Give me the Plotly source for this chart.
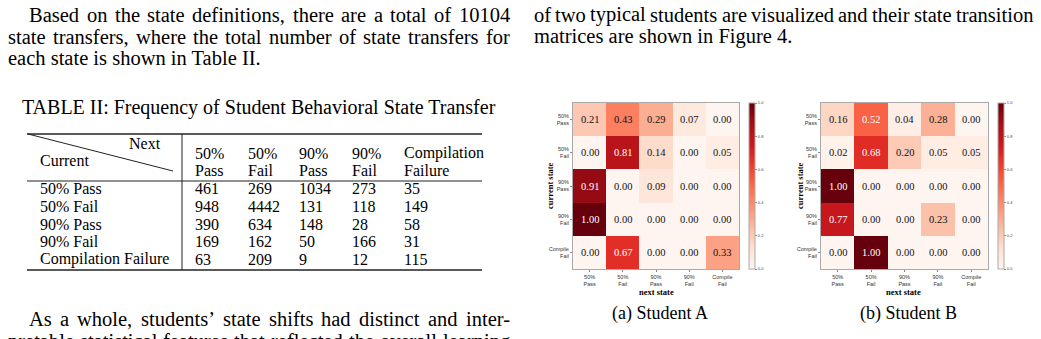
import plotly.graph_objects as go

W, H = 1041, 339

# ---------------- data ----------------
states_tick = ["50%<br>Pass", "50%<br>Fail", "90%<br>Pass", "90%<br>Fail", "Compile<br>Fail"]
student_a = [
    [0.21, 0.43, 0.29, 0.07, 0.00],
    [0.00, 0.81, 0.14, 0.00, 0.05],
    [0.91, 0.00, 0.09, 0.00, 0.00],
    [1.00, 0.00, 0.00, 0.00, 0.00],
    [0.00, 0.67, 0.00, 0.00, 0.33],
]
student_b = [
    [0.16, 0.52, 0.04, 0.28, 0.00],
    [0.02, 0.68, 0.20, 0.05, 0.05],
    [1.00, 0.00, 0.00, 0.00, 0.00],
    [0.77, 0.00, 0.00, 0.23, 0.00],
    [0.00, 1.00, 0.00, 0.00, 0.00],
]
cbar_ticks = [0.0, 0.2, 0.4, 0.6, 0.8, 1.0]
captions = ["(a) Student A", "(b) Student B"]

table_title = "TABLE II: Frequency of Student Behavioral State Transfer"
table_cols_top = ["50%", "50%", "90%", "90%", "Compilation"]
table_cols_bot = ["Pass", "Fail", "Pass", "Fail", "Failure"]
table_rows = ["50% Pass", "50% Fail", "90% Pass", "90% Fail", "Compilation Failure"]
table_vals = [
    [461, 269, 1034, 273, 35],
    [948, 4442, 131, 118, 149],
    [390, 634, 148, 28, 58],
    [169, 162, 50, 166, 31],
    [63, 209, 9, 12, 115],
]

left_par = [
    "Based on the state definitions, there are a total of 10104",
    "state transfers, where the total number of state transfers for",
    "each state is shown in Table II.",
]
right_par = [
    "of two typical students are visualized and their state transition",
    "matrices are shown in Figure 4.",
]
bottom_par = [
    "As a whole, students\u2019 state shifts had distinct and inter-",
    "pretable statistical features that reflected the overall learning",
]

reds = ["#fff5f0", "#fee0d2", "#fcbba1", "#fc9272", "#fb6a4a",
        "#ef3b2c", "#cb181d", "#a50f15", "#67000d"]
colorscale = [[i / 8, c] for i, c in enumerate(reds)]

SERIF = "Liberation Serif, Times New Roman, serif"
SANS = "Liberation Sans, Arial, sans-serif"


def px(x):
    return x / W


def py(y):
    return 1 - y / H


# Times metrics (per 1000 em) for justification
TW = dict(zip("abcdefghijklmnopqrstuvwxyz",
              [444, 500, 444, 500, 444, 333, 500, 500, 278, 278, 500, 278, 778,
               500, 500, 500, 500, 333, 389, 278, 500, 500, 722, 500, 500, 444]))
TW.update(dict(zip("ABCDEFGHIJKLMNOPQRSTUVWXYZ",
                   [722, 667, 667, 722, 611, 556, 722, 722, 333, 389, 722, 611, 889,
                    722, 722, 556, 722, 667, 556, 611, 722, 722, 944, 722, 722, 611])))
TW.update({d: 500 for d in "0123456789"})
TW.update({",": 250, ".": 250, "-": 333, "\u2019": 333, ":": 278, "%": 833,
           "(": 333, ")": 333, " ": 250})


def wwidth(word, fs):
    return sum(TW.get(c, 500) for c in word) * fs / 1000


annotations = []
shapes = []


def text(x, y, s, size, anchor="left", font=SERIF, color="#000", angle=0, bold=False):
    if bold:
        s = "<b>" + s + "</b>"
    annotations.append(dict(x=px(x), y=py(y), xref="paper", yref="paper", text=s,
                            showarrow=False, xanchor=anchor, yanchor="middle",
                            textangle=angle, borderpad=0,
                            font=dict(family=font, size=size, color=color)))


def justify(line, x0, x1, y, fs):
    words = line.split(" ")
    widths = [wwidth(w, fs) for w in words]
    gap = (x1 - x0 - sum(widths)) / max(len(words) - 1, 1)
    x = x0
    for w, wd in zip(words, widths):
        text(x, y, w, fs)
        x += wd + gap


FS = 20.5
# left column paragraph
justify(left_par[0], 28, 509, 15, FS)
justify(left_par[1], 7, 509, 37, FS)
text(7, 58, left_par[2], FS)
# right column paragraph
justify(right_par[0], 533, 1032, 15, FS)
text(533, 37, right_par[1], FS)
# table title
text(259, 107, table_title, 20, anchor="center")
# bottom paragraph
justify(bottom_par[0], 28, 509, 319, FS)
justify(bottom_par[1], 7, 509, 341, FS)

# ---------------- table ----------------
TF = 16
line_col = "#222"
shapes.append(dict(type="line", xref="paper", yref="paper", x0=px(27), x1=px(482),
                   y0=py(134), y1=py(134), line=dict(color=line_col, width=1.5)))
shapes.append(dict(type="line", xref="paper", yref="paper", x0=px(27), x1=px(482),
                   y0=py(181), y1=py(181), line=dict(color=line_col, width=1)))
shapes.append(dict(type="line", xref="paper", yref="paper", x0=px(27), x1=px(482),
                   y0=py(270), y1=py(270), line=dict(color=line_col, width=1.5)))
shapes.append(dict(type="line", xref="paper", yref="paper", x0=px(182), x1=px(182),
                   y0=py(134), y1=py(270), line=dict(color=line_col, width=1)))
shapes.append(dict(type="line", xref="paper", yref="paper", x0=px(28), x1=px(173),
                   y0=py(134), y1=py(171), line=dict(color=line_col, width=1)))
text(128, 143, "Next", TF)
text(39, 161, "Current", TF)
col_x = [194, 247, 298, 351, 403]
for cx, top, bot in zip(col_x, table_cols_top, table_cols_bot):
    text(cx, 153, top, TF)
    text(cx, 170, bot, TF)
row_y = [188, 206, 224, 241, 259]
for ry, lab, vals in zip(row_y, table_rows, table_vals):
    text(39, ry, lab, TF)
    for cx, v in zip(col_x, vals):
        text(cx, ry, str(v), TF)

# ---------------- heatmaps ----------------
fig = go.Figure()
panels = [
    (student_a, "x", "y", (573, 739), 749, 550, 656, 660),
    (student_b, "x2", "y2", (821, 988), 998, 800, 903, 908),
]
layout_axes = {}
for i, (mat, xa, ya, (xl, xr), cbx, ylabx, xlabx, capx) in enumerate(panels):
    fig.add_trace(go.Heatmap(
        z=mat, x=list(range(5)), y=list(range(5)), xaxis=xa, yaxis=ya,
        zmin=0, zmax=1, colorscale=colorscale, showscale=True,
        hoverinfo="skip",
        colorbar=dict(x=px(cbx), xanchor="left", xpad=0, ypad=0,
                      y=py(186), yanchor="middle", len=166 / H, lenmode="fraction",
                      thickness=6, thicknessmode="pixels",
                      outlinewidth=1, outlinecolor="#aaa",
                      tickvals=cbar_ticks, ticktext=[f"{t:.1f}" for t in cbar_ticks],
                      ticks="outside", ticklen=2, tickcolor="#888",
                      tickfont=dict(family=SANS, size=4, color="#444")),
    ))
    for r in range(5):
        for c in range(5):
            v = mat[r][c]
            annotations.append(dict(
                x=c, y=r, xref=xa, yref=ya, text=f"{v:.2f}", showarrow=False,
                font=dict(family=SERIF, size=10.5, color="#fff" if v > 0.5 else "#111")))
    sfx = "" if i == 0 else str(i + 1)
    layout_axes["xaxis" + sfx] = dict(
        domain=[px(xl), px(xr)], range=[-0.5, 4.5], anchor="y" + sfx,
        tickvals=list(range(5)), ticktext=states_tick, ticks="outside", ticklen=2,
        tickcolor="#888", tickfont=dict(family=SANS, size=5.5, color="#333"),
        showline=True, linecolor="#aaa", linewidth=1, mirror=True,
        showgrid=False, zeroline=False, fixedrange=True)
    layout_axes["yaxis" + sfx] = dict(
        domain=[py(269), py(103)], range=[4.5, -0.5], anchor="x" + sfx,
        tickvals=list(range(5)), ticktext=states_tick, ticks="outside", ticklen=2,
        tickcolor="#888", tickfont=dict(family=SANS, size=5.5, color="#333"),
        showline=True, linecolor="#aaa", linewidth=1, mirror=True,
        showgrid=False, zeroline=False, fixedrange=True)
    text(xlabx, 292, "next state", 8.5, anchor="center", bold=True)
    text(ylabx, 186, "current state", 8.5, anchor="center", angle=-90, bold=True)
    text(capx, 313, captions[i], 18, anchor="center")

fig.update_layout(
    width=W, height=H, margin=dict(l=0, r=0, t=0, b=0),
    paper_bgcolor="white", plot_bgcolor="white", showlegend=False,
    annotations=annotations, shapes=shapes, **layout_axes)

fig.write_html("out.html")
